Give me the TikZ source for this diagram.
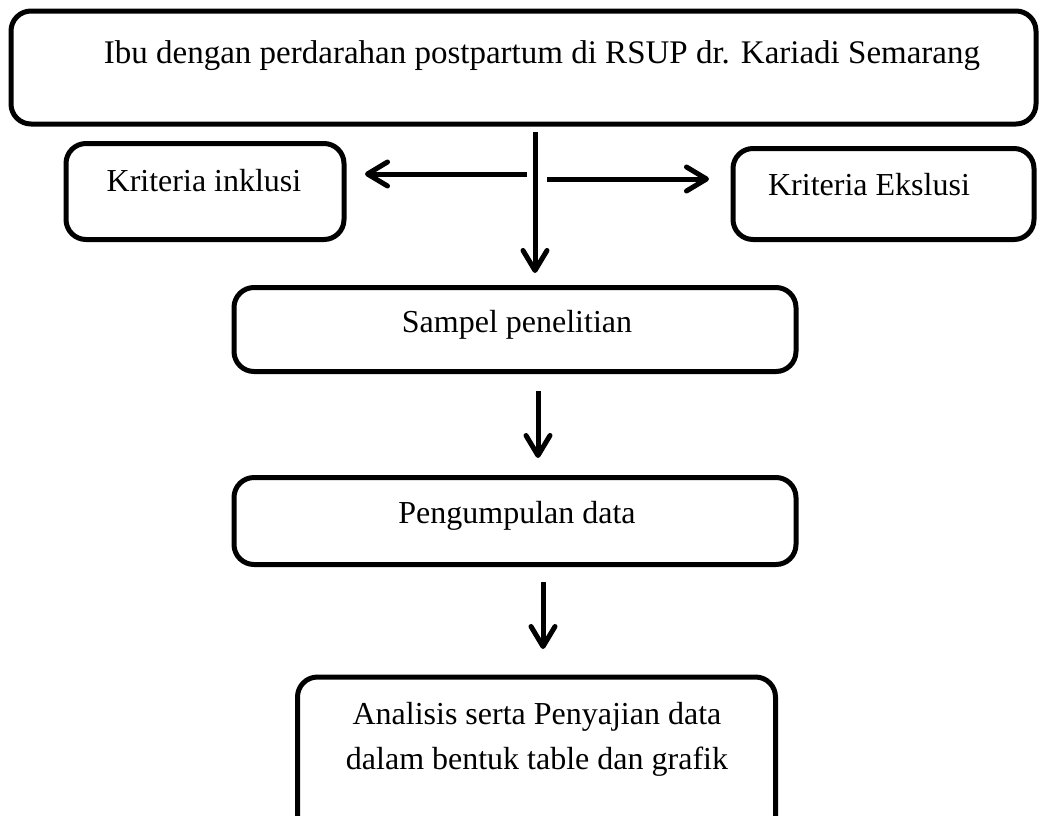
\documentclass[tikz,border=0pt]{standalone}
\usepackage{fontspec}
\setmainfont{Liberation Serif}
\usetikzlibrary{arrows.meta}
\begin{document}
\begin{tikzpicture}[x=1pt,y=-1pt,
  box/.style={draw, line width=5pt, rounded corners=20pt, inner sep=0pt},
  txt/.style={font=\fontsize{32}{45}\selectfont, inner sep=0pt, align=center, anchor=base},
  arr/.style={line width=5pt, -{Straight Barb[length=20pt,width=24pt,line cap=round,line join=round]}}
]
\useasboundingbox (0,0) rectangle (1039,815);
\begin{scope}
\clip (0,0) rectangle (1039,815);
% boxes
\node[box, minimum width=1025pt, minimum height=113pt] (top) at (523.5,67.5) {};
\node[box, minimum width=278pt, minimum height=96pt] (inkl) at (205,191.5) {};
\node[box, minimum width=301pt, minimum height=91pt] (eksl) at (883.5,194) {};
\node[box, minimum width=562pt, minimum height=84pt] (samp) at (515,329.5) {};
\node[box, minimum width=562pt, minimum height=87pt] (peng) at (515,521) {};
\node[box, minimum width=478pt, minimum height=180pt] (anal) at (536.5,767) {};
\end{scope}
% texts
\node[txt, font=\fontsize{33}{45}\selectfont] (ttop) at (542,63) {Ibu dengan perdarahan postpartum di RSUP dr. Kariadi Semarang};
\node[txt] (tinkl) at (204,191) {Kriteria inklusi};
\node[txt] (teksl) at (869,195) {Kriteria Ekslusi};
\node[txt] (tsamp) at (517,332) {Sampel penelitian};
\node[txt] (tpeng) at (517,523) {Pengumpulan data};
\node[txt, anchor=center] (tanal) at (537,739.5) {Analisis serta Penyajian data\\dalam bentuk table dan grafik};
% connectors
\coordinate (vs) at (535,132);
\coordinate (ve) at (535,273);
\coordinate (ls) at (527,174);
\coordinate (le) at (365,174);
\coordinate (rs) at (547,179);
\coordinate (re) at (709,179);
\coordinate (a2s) at (538,391);
\coordinate (a2e) at (538,458);
\coordinate (a3s) at (543,582);
\coordinate (a3e) at (543,649);
\draw[arr] (vs) -- (ve);
\draw[arr] (ls) -- (le);
\draw[arr] (rs) -- (re);
\draw[arr] (a2s) -- (a2e);
\draw[arr] (a3s) -- (a3e);
\end{tikzpicture}
\end{document}
